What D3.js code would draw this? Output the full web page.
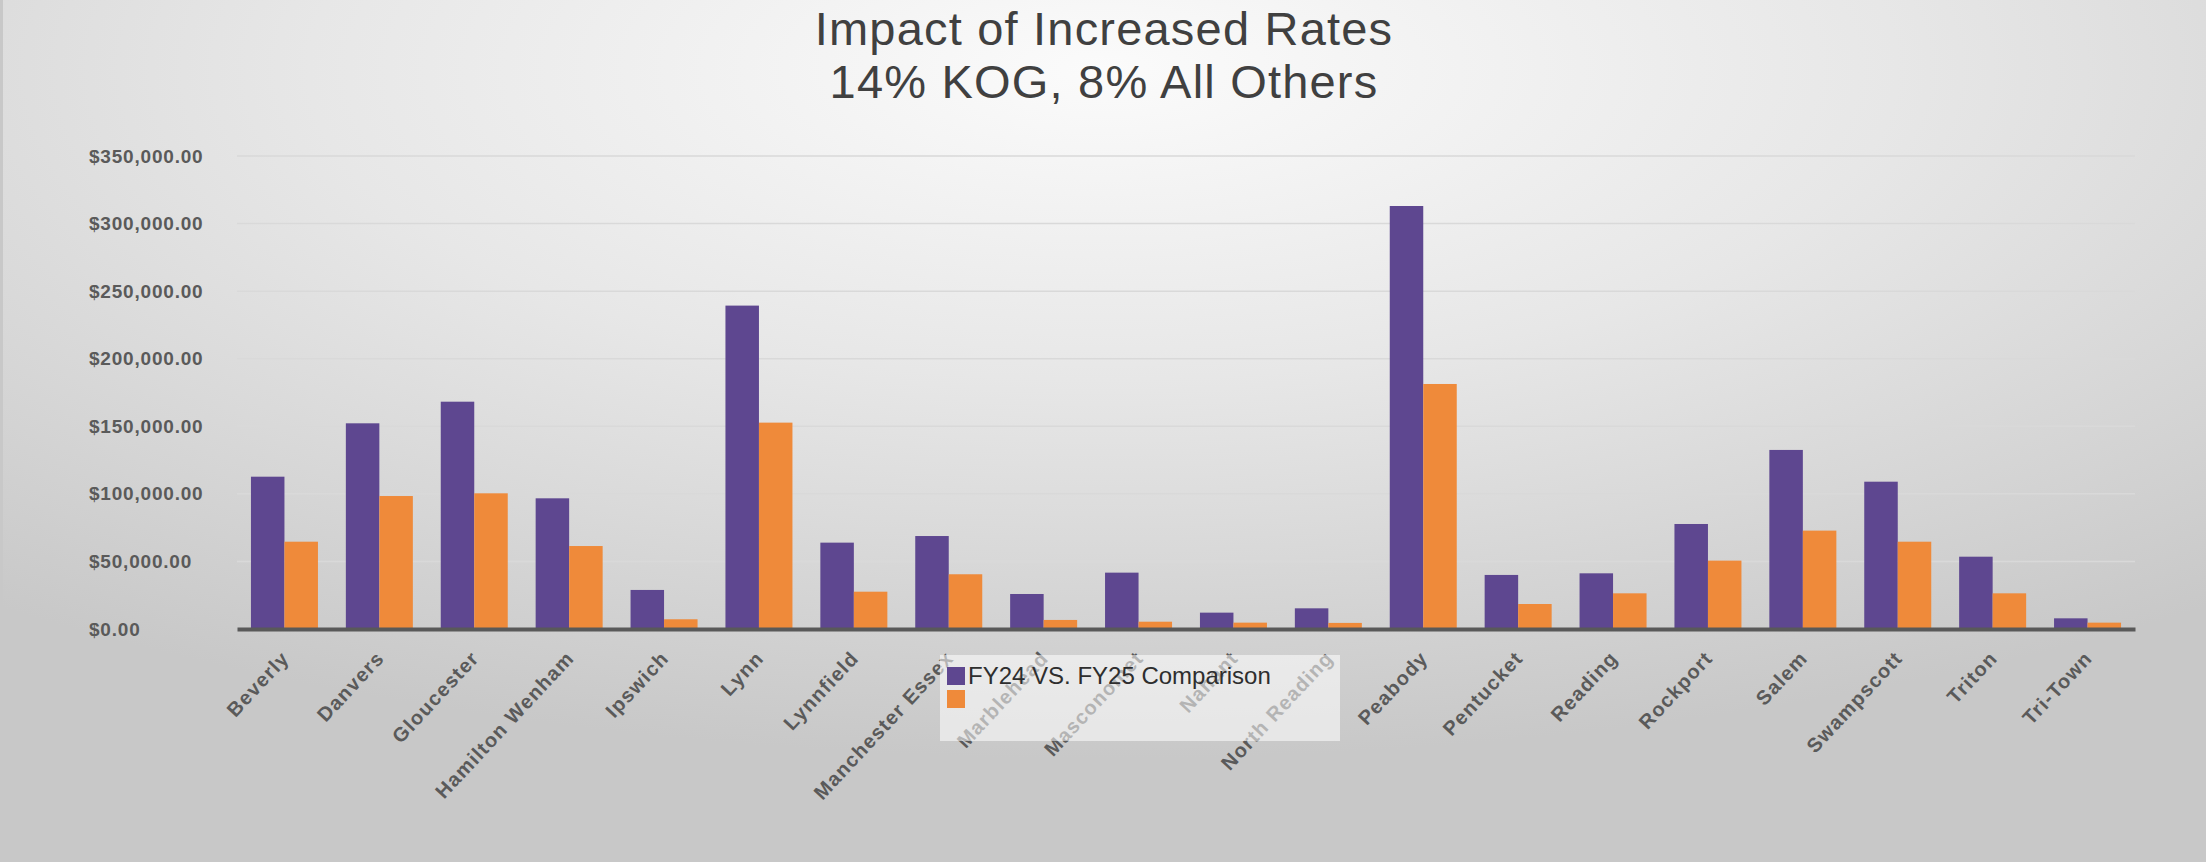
<!DOCTYPE html>
<html>
<head>
<meta charset="utf-8">
<script src="https://cdn.jsdelivr.net/npm/d3@7"></script>
<style>
  body { margin: 0; overflow: hidden; }
  text { font-family: "Liberation Sans", Arial, sans-serif; }
</style>
</head>
<body>
<script>
// chart values
var districts = ["Beverly", "Danvers", "Gloucester", "Hamilton Wenham", "Ipswich", "Lynn",
  "Lynnfield", "Manchester Essex", "Marblehead", "Masconomet", "Nahant", "North Reading",
  "Peabody", "Pentucket", "Reading", "Rockport", "Salem", "Swampscott", "Triton", "Tri-Town"];
var fy24Values = [112700, 152200, 168200, 96700, 28900, 239300, 63900, 68800, 25900, 41700,
  12100, 15300, 313000, 40000, 41200, 77700, 132500, 109000, 53500, 7900];
var fy25Values = [64600, 98400, 100400, 61400, 7200, 152700, 27600, 40500, 6700, 5400,
  4700, 4500, 181300, 18500, 26400, 50600, 72800, 64600, 26400, 4700];
var seriesNames = ["FY24 VS. FY25 Comparison", ""];
var yTicks = [0, 50000, 100000, 150000, 200000, 250000, 300000, 350000];
var titleLines = ["Impact of Increased Rates", "14% KOG, 8% All Others"];

var svgWidth = 2206;
var svgHeight = 862;

var margin = { top: 156, right: 71, bottom: 233, left: 237 };
var chartWidth = svgWidth - margin.left - margin.right;
var chartHeight = svgHeight - margin.top - margin.bottom;

var colors = ["#5e4790", "#ef8a3a"];

var svg = d3.select("body")
  .append("svg")
  .attr("width", svgWidth)
  .attr("height", svgHeight);

// background gradient
var defs = svg.append("defs");
var grad = defs.append("radialGradient")
  .attr("id", "bg")
  .attr("cx", "50%").attr("cy", "8%")
  .attr("r", "80%")
  .attr("fx", "50%").attr("fy", "8%");
grad.append("stop").attr("offset", "0%").attr("stop-color", "#fbfbfb");
grad.append("stop").attr("offset", "45%").attr("stop-color", "#e7e7e7");
grad.append("stop").attr("offset", "100%").attr("stop-color", "#c8c8c8");

svg.append("rect")
  .attr("width", svgWidth)
  .attr("height", svgHeight)
  .attr("fill", "url(#bg)");

svg.append("rect")
  .attr("x", 0).attr("y", 0)
  .attr("width", 3).attr("height", svgHeight)
  .attr("fill", "#c8c8c8");

// title
svg.selectAll(".title")
  .data(titleLines)
  .enter()
  .append("text")
  .attr("class", "title")
  .attr("x", 1104)
  .attr("y", (d, i) => 45 + i * 53)
  .attr("text-anchor", "middle")
  .attr("font-size", "47px")
  .attr("letter-spacing", "1.2px")
  .attr("fill", "#404040")
  .text(d => d);

var chartGroup = svg.append("g")
  .attr("transform", `translate(${margin.left}, ${margin.top})`);

var xScale = d3.scaleBand()
  .domain(districts)
  .range([0, chartWidth])
  .paddingInner(0.294)
  .paddingOuter(0.147);

var xInner = d3.scaleBand()
  .domain([0, 1])
  .range([0, xScale.bandwidth()]);

var yScale = d3.scaleLinear()
  .domain([0, 350000])
  .range([chartHeight, 0]);

// gridlines
chartGroup.append("g")
  .selectAll("line")
  .data(yTicks.slice(1))
  .enter()
  .append("line")
  .attr("x1", 0)
  .attr("x2", chartWidth)
  .attr("y1", d => yScale(d))
  .attr("y2", d => yScale(d))
  .attr("stroke", "#d9d9d9")
  .attr("stroke-width", 1.5);

// y axis labels, left aligned like the original
var leftAxis = d3.axisLeft(yScale)
  .tickValues(yTicks)
  .tickSize(0)
  .tickFormat(d => "$" + d3.format(",.2f")(d));

var yAxis = chartGroup.append("g").call(leftAxis);
yAxis.select(".domain").remove();
yAxis.selectAll("text")
  .attr("x", 89 - margin.left)
  .attr("text-anchor", "start")
  .attr("font-size", "19px")
  .attr("font-weight", "bold")
  .attr("letter-spacing", "0.8px")
  .attr("fill", "#5a5a5a");

// bars
var groups = chartGroup.selectAll(".district")
  .data(districts)
  .enter()
  .append("g")
  .attr("class", "district")
  .attr("transform", d => `translate(${xScale(d)}, 0)`);

groups.selectAll("rect")
  .data((d, i) => [fy24Values[i], fy25Values[i]])
  .enter()
  .append("rect")
  .attr("x", (d, j) => xInner(j))
  .attr("y", d => yScale(d))
  .attr("width", xInner.bandwidth())
  .attr("height", d => chartHeight - yScale(d))
  .attr("fill", (d, j) => colors[j]);

// x axis
var bottomAxis = d3.axisBottom(xScale).tickSize(0);
var xAxis = chartGroup.append("g")
  .attr("transform", `translate(0, ${chartHeight})`)
  .call(bottomAxis);
xAxis.select(".domain")
  .attr("stroke", "#595959")
  .attr("stroke-width", 4);
xAxis.selectAll("text")
  .attr("font-size", "20px")
  .attr("font-weight", "bold")
  .attr("letter-spacing", "1.2px")
  .attr("fill", "#5a5a5a")
  .attr("text-anchor", "end")
  .attr("y", 0)
  .attr("dy", "0.75em")
  .attr("transform", "translate(-5, 20) rotate(-47)");

// legend
var legend = svg.append("g");
legend.append("rect")
  .attr("x", 940).attr("y", 655)
  .attr("width", 400).attr("height", 86)
  .attr("fill", "#ffffff")
  .attr("opacity", 0.55);

legend.selectAll(".swatch")
  .data(seriesNames)
  .enter()
  .append("rect")
  .attr("class", "swatch")
  .attr("x", 947)
  .attr("y", (d, i) => 667 + i * 23)
  .attr("width", 18)
  .attr("height", 18)
  .attr("fill", (d, i) => colors[i]);

legend.selectAll(".legendText")
  .data(seriesNames)
  .enter()
  .append("text")
  .attr("class", "legendText")
  .attr("x", 968)
  .attr("y", (d, i) => 676 + i * 23)
  .attr("dy", "0.35em")
  .attr("font-size", "24px")
  .attr("fill", "#2e2e2e")
  .text(d => d);
</script>
</body>
</html>
